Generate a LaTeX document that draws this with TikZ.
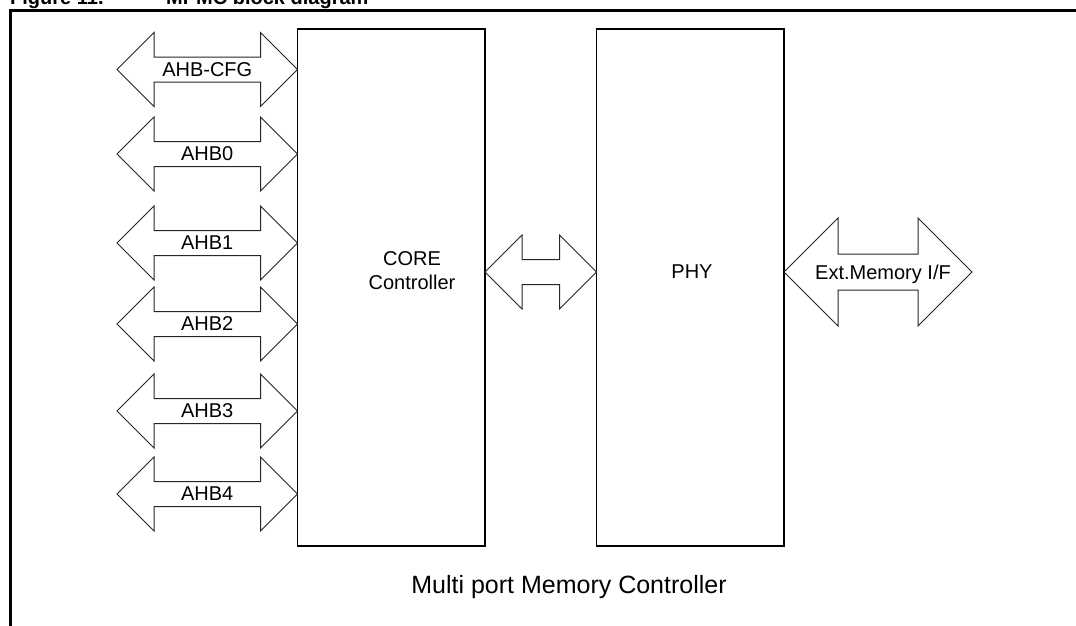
\documentclass[tikz,border=0pt]{standalone}
\usepackage{fontspec}
\setmainfont{Liberation Sans}
\usetikzlibrary{calc}
\tikzset{
	blockstyle/.style={draw=black, line width=1.3pt, fill=white, outer sep=0pt,
		minimum width=187.5pt, minimum height=517pt, anchor=north west},
	busstyle/.style={draw=black!85, line width=1pt, fill=white, line join=miter},
	labelstyle/.style={font=\fontsize{20}{24}\selectfont, inner sep=0pt, text depth=0pt},
	framestyle/.style={draw=black, line width=2.6pt}
}
% double bus arrow between two tips: #3 head half-height (= head length), #4 shaft half-height
\newcommand{\busarrow}[4]{%
	\draw[busstyle] let \p1 = #1, \p2 = #2 in
		(\x1, \y1) -- (\x1 + #3, \y1 + #3) -- (\x1 + #3, \y1 + #4) -- (\x2 - #3, \y1 + #4)
		-- (\x2 - #3, \y1 + #3) -- (\x2, \y1) -- (\x2 - #3, \y1 - #3) -- (\x2 - #3, \y1 - #4)
		-- (\x1 + #3, \y1 - #4) -- (\x1 + #3, \y1 - #3) -- cycle;}

\begin{document}
\begin{tikzpicture}[x=1pt, y=-1pt]
\useasboundingbox (0, 0) rectangle (1076, 625);

\def\hh{37pt}
\def\sh{12.5pt}

% caption, cut by the page
\node[font=\bfseries\fontsize{20}{24}\selectfont, inner sep=0pt, anchor=base west] (title) at (10, 4) {Figure 11.};
\node[font=\bfseries\fontsize{20}{24}\selectfont, inner sep=0pt, anchor=base west] (title2) at (166, 4) {MPMC block diagram};
\draw[framestyle] (1100, 10.5) -- (10.5, 10.5) -- (10.5, 660);

\node[blockstyle] (core) at (297.5, 29) {};
\node[blockstyle] (phy) at (596.5, 29) {};
\node[align=center, font=\fontsize{20}{24}\selectfont, inner sep=0pt] (coretxt) at (412, 271) {CORE\\Controller};
\node[labelstyle] (phytxt) at (692, 272) {PHY};

\coordinate (cfg) at (117, 69.5);
\coordinate (ahb0) at (117, 154);
\coordinate (ahb1) at (117, 243);
\coordinate (ahb2) at (117, 324);
\coordinate (ahb3) at (117, 411);
\coordinate (ahb4) at (117, 494);
\coordinate (mid) at (0, 272);
\coordinate (ext) at (972, 272);

\busarrow{(cfg)}{(core.west |- cfg)}{\hh}{\sh}
\busarrow{(ahb0)}{(core.west |- ahb0)}{\hh}{\sh}
\busarrow{(ahb1)}{(core.west |- ahb1)}{\hh}{\sh}
\busarrow{(ahb2)}{(core.west |- ahb2)}{\hh}{\sh}
\busarrow{(ahb3)}{(core.west |- ahb3)}{\hh}{\sh}
\busarrow{(ahb4)}{(core.west |- ahb4)}{\hh}{\sh}
\busarrow{(core.east |- mid)}{(phy.west |- mid)}{\hh}{\sh}
\busarrow{(phy.east |- ext)}{(ext)}{54pt}{18pt}

\node[labelstyle] (cfgtxt) at ($(cfg)!0.5!(core.west |- cfg)$) {AHB-CFG};
\node[labelstyle] (ahb0txt) at ($(ahb0)!0.5!(core.west |- ahb0)$) {AHB0};
\node[labelstyle] (ahb1txt) at ($(ahb1)!0.5!(core.west |- ahb1)$) {AHB1};
\node[labelstyle] (ahb2txt) at ($(ahb2)!0.5!(core.west |- ahb2)$) {AHB2};
\node[labelstyle] (ahb3txt) at ($(ahb3)!0.5!(core.west |- ahb3)$) {AHB3};
\node[labelstyle] (ahb4txt) at ($(ahb4)!0.5!(core.west |- ahb4)$) {AHB4};
\node[labelstyle] (exttxt) at (883, 272) {Ext.Memory I/F};

\node[font=\fontsize{25}{30}\selectfont, inner sep=0pt] (mpmc) at (569, 587) {Multi port Memory Controller};
\end{tikzpicture}
\end{document}
